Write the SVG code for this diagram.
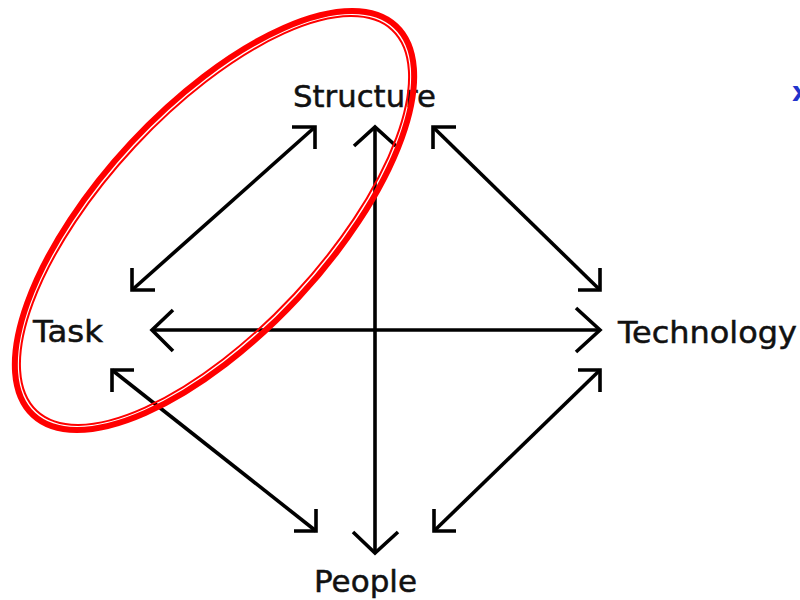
<svg xmlns="http://www.w3.org/2000/svg" width="800" height="600" viewBox="0 0 800 600">
<style>
.lbl{font-family:"DejaVu Sans","Liberation Sans",sans-serif;font-size:31px;fill:#111;stroke:#111;stroke-width:0.5;}
.ln{stroke:#000;stroke-width:3.6;fill:none;stroke-linejoin:miter;stroke-linecap:butt;}
.oval{fill:none;stroke:#ff0000;}
</style>
<rect width="800" height="600" fill="#fff"/>
<g id="connectors">
  <g id="task-structure">
    <line class="ln" x1="132" y1="290" x2="315" y2="127"/>
    <polyline class="ln" points="292,127 315,127 315,149"/>
    <polyline class="ln" points="132,268 132,290 155,290"/>
  </g>
  <g id="structure-people">
    <line class="ln" x1="375" y1="127" x2="375" y2="553"/>
    <polyline class="ln" points="354,146 375,127 396,146"/>
    <polyline class="ln" points="353,532 375,553 398,532"/>
  </g>
  <g id="structure-technology">
    <line class="ln" x1="433" y1="127" x2="600" y2="290"/>
    <polyline class="ln" points="456,127 433,127 433,149"/>
    <polyline class="ln" points="578,290 600,290 600,268"/>
  </g>
  <g id="task-technology">
    <line class="ln" x1="152" y1="330" x2="600" y2="330"/>
    <polyline class="ln" points="173,310 152,330 173,351"/>
    <polyline class="ln" points="576,308 600,330 576,352"/>
  </g>
  <g id="task-people">
    <line class="ln" x1="112" y1="370" x2="316" y2="531"/>
    <polyline class="ln" points="134,370 112,370 112,392"/>
    <polyline class="ln" points="294,531 316,531 316,509"/>
  </g>
  <g id="technology-people">
    <line class="ln" x1="600" y1="370" x2="434" y2="531"/>
    <polyline class="ln" points="578,370 600,370 600,392"/>
    <polyline class="ln" points="456,531 434,531 434,509"/>
  </g>
</g>
<g id="structure"><text class="lbl" x="293" y="107" textLength="143" lengthAdjust="spacingAndGlyphs">Structure</text></g>
<g id="task"><text class="lbl" x="33" y="342" textLength="70" lengthAdjust="spacingAndGlyphs">Task</text></g>
<g id="technology"><text class="lbl" x="618" y="343" textLength="179" lengthAdjust="spacingAndGlyphs">Technology</text></g>
<g id="people"><text class="lbl" x="314" y="592" textLength="103" lengthAdjust="spacingAndGlyphs">People</text></g>
<g id="highlight" transform="translate(214.5 220.5) rotate(-47)">
  <ellipse class="oval" cx="0" cy="0" rx="266" ry="114" stroke-width="6"/>
  <ellipse class="oval" cx="0" cy="0" rx="260.5" ry="108.5" stroke-width="2"/>
</g>
<text x="792" y="101" font-family="DejaVu Sans, sans-serif" font-size="26" font-weight="bold" fill="#2233cc">x</text>
</svg>
